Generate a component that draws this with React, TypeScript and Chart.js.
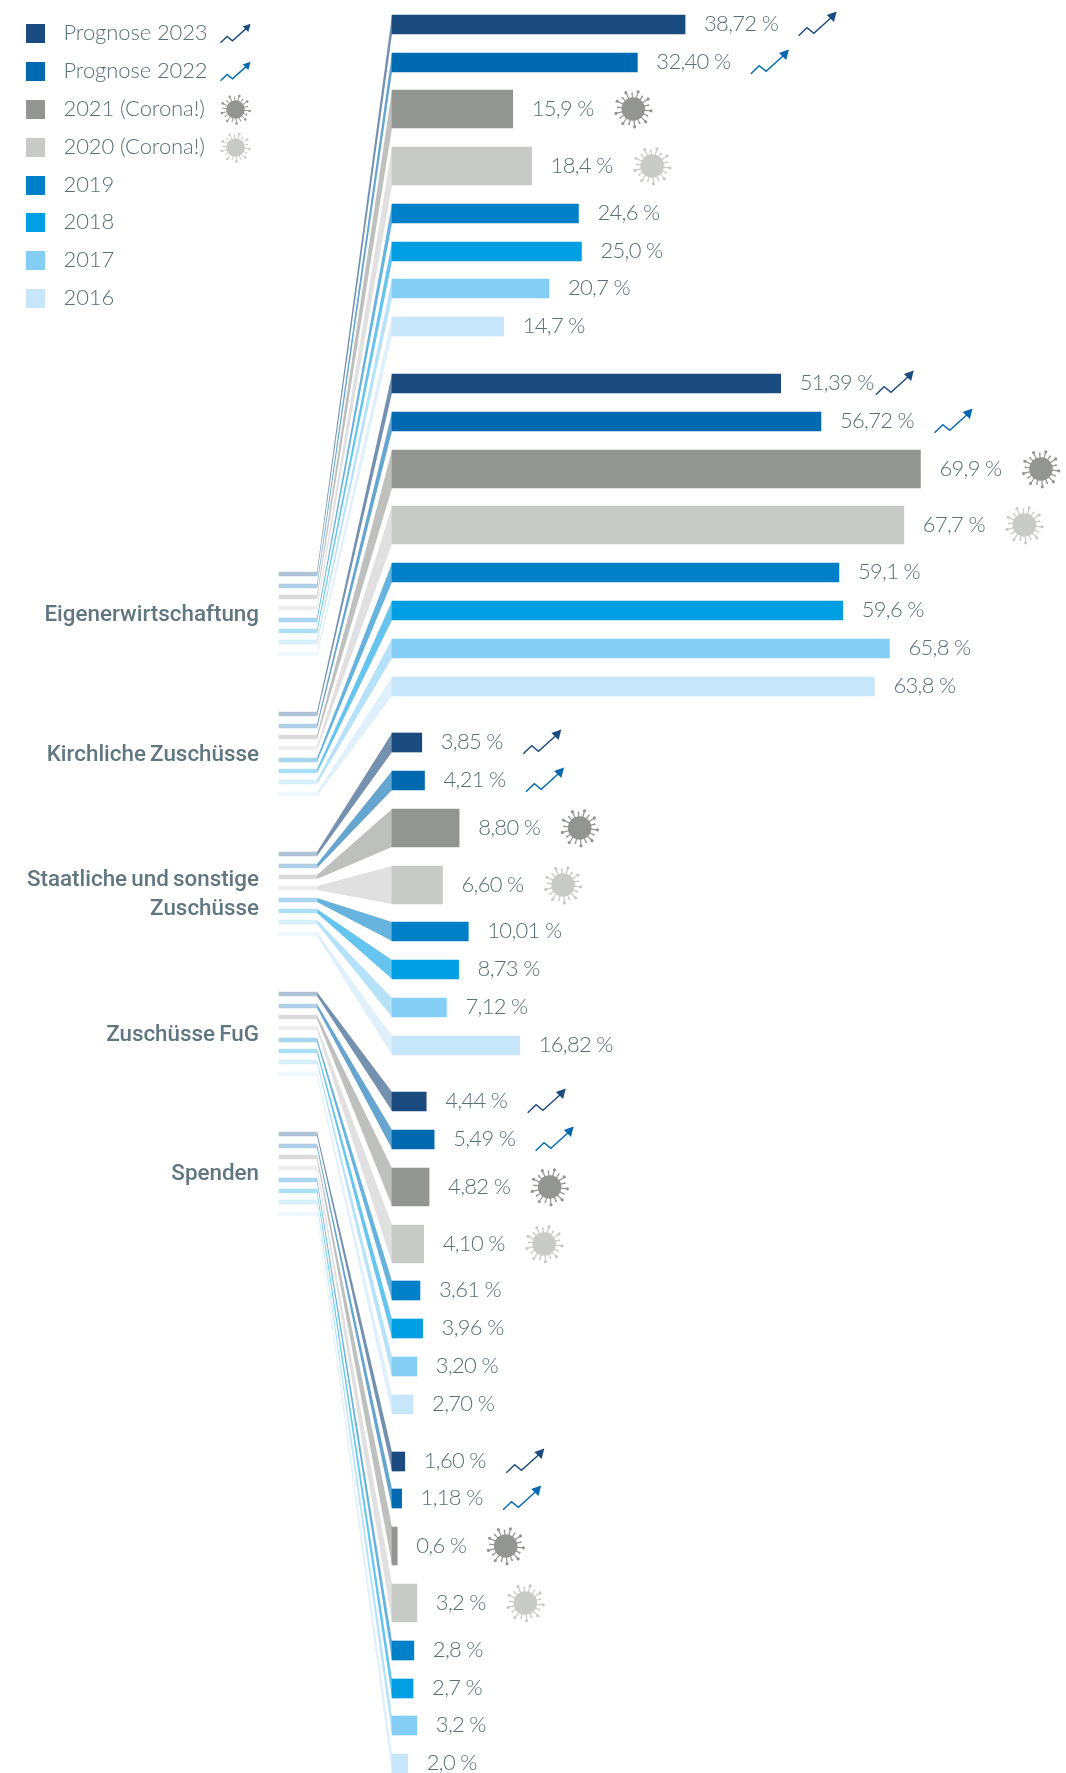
import React, { useEffect, useRef } from "react";
import { Chart, registerables } from "chart.js";

Chart.register(...registerables);

const categories = [
  ["Eigenerwirtschaftung"],
  ["Kirchliche Zuschüsse"],
  ["Staatliche und sonstige", "Zuschüsse"],
  ["Zuschüsse FuG"],
  ["Spenden"],
];
const seriesNames = ["Prognose 2023", "Prognose 2022", "2021 (Corona!)", "2020 (Corona!)", "2019", "2018", "2017", "2016"];

const prognose2023 = [38.72, 51.39, 3.85, 4.44, 1.6];
const prognose2022 = [32.4, 56.72, 4.21, 5.49, 1.18];
const corona2021 = [15.9, 69.9, 8.8, 4.82, 0.6];
const corona2020 = [18.4, 67.7, 6.6, 4.1, 3.2];
const year2019 = [24.6, 59.1, 10.01, 3.61, 2.8];
const year2018 = [25.0, 59.6, 8.73, 3.96, 2.7];
const year2017 = [20.7, 65.8, 7.12, 3.2, 3.2];
const year2016 = [14.7, 63.8, 16.82, 2.7, 2.0];
const seriesValues = [prognose2023, prognose2022, corona2021, corona2020, year2019, year2018, year2017, year2016];

// decimals shown in the value labels: forecast series / per category for the others
const forecastDecimals = [2, 2, 2, 2, 2];
const historyDecimals = [1, 1, 2, 2, 1];

const barColors = ["#1a4a7e", "#0069b0", "#929592", "#c8cac7", "#0080c8", "#009fe3", "#84cef5", "#c8e6fa"];
const ribbonColors = ["#7591b0", "#66a5d0", "#bec0be", "#e0e0e0", "#66b3de", "#66c5ee", "#b5e2f9", "#dff0fc"];
const stubColors = ["#b0c2d5", "#b0cfe6", "#d9dad9", "#eeeeee", "#aad5ee", "#aadff5", "#d7effb", "#eef8fe"];
const barThickness = [19, 19, 38, 38, 19, 19, 19, 19];
const iconKind = ["arrow", "arrow", "virus", "virus", "", "", "", ""];

// layout rows, in page pixels, since the y scale spans the page height
const rowCentres = [
  [24.5, 62.5, 109, 166, 213.5, 251.5, 288.5, 326.5],
  [383.5, 421.5, 469, 525, 572.5, 610.5, 648.5, 686.5],
  [742.5, 780.5, 828, 885, 931.5, 969.5, 1007.5, 1045.5],
  [1101.5, 1139.5, 1187, 1244, 1290.5, 1328.5, 1366.5, 1404.5],
  [1461.5, 1498.5, 1546, 1603, 1650.5, 1688.5, 1725.5, 1763.5],
];
const stubStarts = [574, 714, 854, 994, 1134];
const stubOffsets = [0, 12, 23, 34, 46, 57, 68, 80];
const labelBaselines = [[621], [761], [886, 915], [1041], [1180]];
const legendTops = [24, 62, 100, 138, 176, 213, 251, 289];

const W = 1066;
const H = 1773;
const PX_PER_UNIT = 7.55;
const ZERO_X = 392.7;
const BAR_BASE = -0.7 / PX_PER_UNIT;
const STUB_FROM = (279 - ZERO_X) / PX_PER_UNIT;
const STUB_TO = (317 - ZERO_X) / PX_PER_UNIT;

const VALUE_FONT = "300 22px Lato";
const VALUE_COLOR = "#587078";
const CATEGORY_FONT = "500 22.4px Roboto";
const CATEGORY_COLOR = "#607680";

function drawArrow(ctx: CanvasRenderingContext2D, x: number, y: number, w: number, h: number, color: string) {
  ctx.save();
  ctx.strokeStyle = color;
  ctx.fillStyle = color;
  ctx.lineWidth = 1.4;
  ctx.beginPath();
  const pts = [[0, 0.97], [0.22, 0.65], [0.4, 0.87], [0.86, 0.24]];
  pts.forEach(([a, b], i) => (i ? ctx.lineTo(x + a * w, y + b * h) : ctx.moveTo(x + a * w, y + b * h)));
  ctx.stroke();
  ctx.beginPath();
  ctx.moveTo(x + w, y);
  ctx.lineTo(x + 0.74 * w, y + 0.14 * h);
  ctx.lineTo(x + 0.93 * w, y + 0.42 * h);
  ctx.closePath();
  ctx.fill();
  ctx.restore();
}

function drawVirus(ctx: CanvasRenderingContext2D, cx: number, cy: number, size: number, color: string) {
  ctx.save();
  ctx.strokeStyle = color;
  ctx.fillStyle = color;
  ctx.lineWidth = (size / 38) * 1.2;
  ctx.beginPath();
  ctx.arc(cx, cy, size * 0.31, 0, Math.PI * 2);
  ctx.fill();
  const spikes = 18;
  for (let i = 0; i < spikes; i++) {
    const a = (i / spikes) * Math.PI * 2 + 0.1;
    const r = i % 2 ? size * 0.41 : size * 0.47;
    const ex = cx + Math.cos(a) * r;
    const ey = cy + Math.sin(a) * r;
    ctx.beginPath();
    ctx.moveTo(cx + Math.cos(a) * size * 0.28, cy + Math.sin(a) * size * 0.28);
    ctx.lineTo(ex, ey);
    ctx.stroke();
    ctx.beginPath();
    ctx.arc(ex, ey, (size / 38) * (i % 2 ? 0.9 : 1.6), 0, Math.PI * 2);
    ctx.fill();
  }
  ctx.restore();
}

function drawIcon(ctx: CanvasRenderingContext2D, kind: string, x: number, cy: number, size: number, color: string) {
  if (kind === "arrow") drawArrow(ctx, x, cy - (size * 25) / 38 / 2, size, (size * 25) / 38, color);
  if (kind === "virus") drawVirus(ctx, x + size / 2, cy, size, color);
}

const decorations = {
  id: "decorations",
  beforeDatasetsDraw(chart: any) {
    const ctx = chart.ctx;
    seriesValues.forEach((_, s) => {
      const bars = chart.getDatasetMeta(s).data;
      const stubs = chart.getDatasetMeta(s + seriesValues.length).data;
      bars.forEach((bar: any, g: number) => {
        const stub = stubs[g];
        const sx = Math.max(stub.x, stub.base);
        ctx.fillStyle = ribbonColors[s];
        ctx.beginPath();
        ctx.moveTo(sx, stub.y - stub.height / 2);
        ctx.lineTo(bar.base, bar.y - bar.height / 2);
        ctx.lineTo(bar.base, bar.y + bar.height / 2);
        ctx.lineTo(sx, stub.y + stub.height / 2);
        ctx.closePath();
        ctx.fill();
      });
    });
  },
  afterDatasetsDraw(chart: any) {
    const ctx = chart.ctx;
    ctx.save();
    // value labels with icons
    seriesValues.forEach((values, s) => {
      const bars = chart.getDatasetMeta(s).data;
      values.forEach((v, g) => {
        const bar = bars[g];
        const dec = s < 2 ? forecastDecimals[g] : historyDecimals[g];
        const text = v.toFixed(dec).replace(".", ",") + " %";
        ctx.font = VALUE_FONT;
        ctx.letterSpacing = "-0.7px";
        ctx.fillStyle = VALUE_COLOR;
        ctx.textAlign = "left";
        ctx.textBaseline = "alphabetic";
        const tx = bar.x + 19;
        ctx.fillText(text, tx, bar.y + 6.5);
        const tw = ctx.measureText(text).width;
        ctx.letterSpacing = "0px";
        if (iconKind[s]) {
          const gap = s === 0 && g === 1 ? 2 : 20.5;
          drawIcon(ctx, iconKind[s], tx + tw + gap, bar.y + (iconKind[s] === "arrow" ? -0.5 : 0), 38, barColors[s]);
        }
      });
    });
    // category labels
    ctx.font = CATEGORY_FONT;
    ctx.wordSpacing = "-1.4px";
    ctx.fillStyle = CATEGORY_COLOR;
    ctx.textAlign = "right";
    categories.forEach((lines, g) => {
      lines.forEach((line, i) => ctx.fillText(line, 259, labelBaselines[g][i]));
    });
    ctx.wordSpacing = "0px";
    // legend
    seriesNames.forEach((name, s) => {
      const top = legendTops[s];
      ctx.fillStyle = barColors[s];
      ctx.fillRect(26, top, 19, 19);
      ctx.font = VALUE_FONT;
      ctx.letterSpacing = "-0.1px";
      ctx.fillStyle = VALUE_COLOR;
      ctx.textAlign = "left";
      ctx.fillText(name, 63.5, top + 16);
      ctx.letterSpacing = "0px";
      if (iconKind[s]) drawIcon(ctx, iconKind[s], 220.5, top + 9.5, 30, barColors[s]);
    });
    ctx.restore();
  },
};

export default function App() {
  const ref = useRef<HTMLCanvasElement>(null);
  useEffect(() => {
    const barSets = seriesValues.map((values, s) => ({
      label: seriesNames[s],
      stack: "all",
      base: BAR_BASE,
      barThickness: barThickness[s],
      backgroundColor: barColors[s],
      data: values.map((v, g) => ({ x: v, y: rowCentres[g][s] })),
    }));
    const stubSets = seriesValues.map((values, s) => ({
      label: seriesNames[s] + " stub",
      stack: "all",
      barThickness: 4,
      backgroundColor: stubColors[s],
      data: values.map((_, g) => ({ x: [STUB_FROM, STUB_TO], y: stubStarts[g] + stubOffsets[s] })),
    }));
    const chart = new Chart(ref.current as HTMLCanvasElement, {
      type: "bar",
      data: { datasets: [...barSets, ...stubSets] as any },
      options: {
        indexAxis: "y",
        responsive: false,
        animation: false,
        devicePixelRatio: 1,
        layout: { padding: 0 },
        scales: {
          x: { type: "linear", display: false, min: -ZERO_X / PX_PER_UNIT, max: (W - ZERO_X) / PX_PER_UNIT },
          y: { type: "linear", display: false, offset: false, reverse: true, min: 0, max: H },
        },
        plugins: { legend: { display: false }, tooltip: { enabled: false } },
      } as any,
      plugins: [decorations],
    });
    return () => chart.destroy();
  }, []);
  return <canvas ref={ref} width={W} height={H} style={{ position: "absolute", left: 0, top: 0, display: "block" }} />;
}
